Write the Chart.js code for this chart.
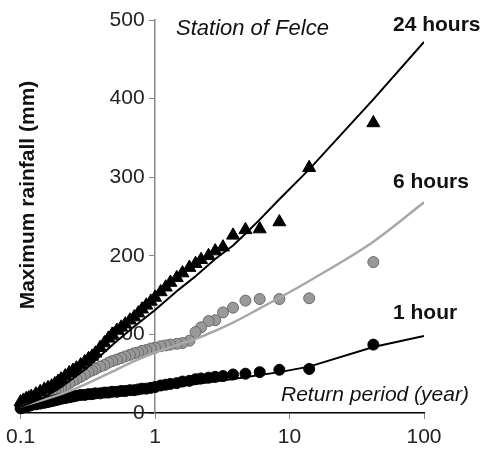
<!DOCTYPE html>
<html>
<head>
<meta charset="utf-8">
<script src="https://cdn.jsdelivr.net/npm/chart.js@4.4.1/dist/chart.umd.min.js"></script>
<style>
  html, body { margin: 0; padding: 0; background: #fff; }
  #wrap { width: 486px; height: 455px; }
</style>
</head>
<body>
<div id="wrap"><canvas id="felceChart" width="486" height="455"></canvas></div>
<script>
// Return periods (years) of the ranked events, shared by the three durations
const returnPeriods = [
  42, 14, 8.4, 6, 4.7, 3.8, 3.2, 2.8, 2.5, 2.2,
  2.0, 1.8, 1.6, 1.45, 1.3, 1.2, 1.1, 1.0, 0.93, 0.86,
  0.8, 0.75, 0.7, 0.65, 0.6, 0.56, 0.52, 0.48, 0.45, 0.42,
  0.39, 0.36, 0.34, 0.32, 0.3, 0.28, 0.26, 0.245, 0.23, 0.215,
  0.2, 0.19, 0.18, 0.17, 0.16, 0.15, 0.14, 0.13, 0.12, 0.115,
  0.11, 0.105, 0.1
];

// Observed maximum rainfall (mm)
const rain24h = [
  369, 312, 243, 234, 233, 226, 211, 206, 200, 195,
  190, 185, 178, 172, 166, 160, 154, 147, 142, 137,
  132, 127, 122, 118, 113, 109, 105, 100, 95, 89,
  83, 76, 72, 69, 65, 61, 57, 54, 51, 47,
  43, 40, 37, 34, 32, 30, 27, 24, 21, 19,
  18, 16, 14
];
const rain6h = [
  192, 146, 145, 145, 143, 134, 128, 118, 117, 109,
  103, 92, 89, 88, 87, 86, 85, 83, 82, 80,
  79, 77, 76, 74, 72, 70, 68, 66, 64, 61,
  59, 56, 54, 52, 49, 46, 43, 41, 38, 35,
  32, 30, 28, 26, 24, 22, 20, 17, 15, 13,
  12, 11, 10
];
const rain1h = [
  87, 56, 55, 52, 50, 49, 47, 46, 45, 44,
  43, 41, 40, 38, 37, 36, 35, 33, 32, 31,
  31, 30, 29, 29, 28, 28, 27, 27, 26, 26,
  25, 25, 24, 24, 23, 23, 22, 21, 20, 19,
  18, 17, 16, 15, 14, 13, 12, 11, 10, 9,
  8, 7, 6
];

// Fitted curves
const fitPeriods24h = [0.1, 0.15, 0.2, 0.3, 0.4, 0.5, 0.7, 1, 1.5, 2, 2.8, 3.8, 4.7, 6, 8.4, 14, 42, 100];
const fit24h = [8, 20, 33, 55, 74, 89, 110, 131, 157, 174, 196, 213, 228, 246, 272, 310, 399, 472];
const fitPeriods6h = [0.1, 0.2, 0.3, 0.5, 0.7, 1, 1.5, 2.2, 3.7, 6, 9.6, 14, 42, 100];
const fit6h = [8, 24, 36, 54, 66, 77, 87, 97, 114, 133, 152, 168, 218, 268];
const fitPeriods1h = [0.1, 0.2, 0.3, 0.5, 1, 2, 3.7, 8.4, 14, 42, 100];
const fit1h = [5, 13, 18, 23, 30, 37, 43, 52, 59, 84, 98];

// Axis ticks
const xTicks = [0.1, 1, 10, 100];
const yTicks = [0, 100, 200, 300, 400, 500];

const FONT = '"Liberation Sans", Arial, sans-serif';

function toPoints(xs, ys) {
  return xs.map((x, i) => ({ x: x, y: ys[i] }));
}

// Free text of the figure (title, series names, axis names)
const felceText = {
  id: 'felceText',
  afterDraw(chart) {
    const ctx = chart.ctx;
    ctx.save();
    ctx.fillStyle = '#111';
    ctx.textBaseline = 'middle';
    ctx.textAlign = 'left';

    ctx.font = 'italic 22px ' + FONT;
    ctx.fillText('Station of Felce', 176, 29);

    ctx.font = 'bold 21px ' + FONT;
    ctx.fillText('24 hours', 393, 25);
    ctx.fillText('6 hours', 393, 182);
    ctx.fillText('1 hour', 393, 313);

    ctx.font = 'italic 21px ' + FONT;
    ctx.fillText('Return period (year)', 281, 395);

    ctx.translate(28, 195);
    ctx.rotate(-Math.PI / 2);
    ctx.textAlign = 'center';
    ctx.font = 'bold 21px ' + FONT;
    ctx.fillText('Maximum rainfall (mm)', 0, 0);
    ctx.restore();
  }
};

const ctx = document.getElementById('felceChart').getContext('2d');
new Chart(ctx, {
  type: 'scatter',
  data: {
    datasets: [
      {
        label: '24 hours fit',
        data: toPoints(fitPeriods24h, fit24h),
        showLine: true,
        borderColor: '#000',
        borderWidth: 2,
        pointRadius: 0,
        tension: 0,
        order: 0
      },
      {
        label: '1 hour fit',
        data: toPoints(fitPeriods1h, fit1h),
        showLine: true,
        borderColor: '#000',
        borderWidth: 2,
        pointRadius: 0,
        tension: 0,
        order: 1
      },
      {
        label: '6 hours fit',
        data: toPoints(fitPeriods6h, fit6h),
        showLine: true,
        borderColor: '#a8a8a8',
        borderWidth: 2.5,
        pointRadius: 0,
        cubicInterpolationMode: 'monotone',
        order: 2
      },
      {
        label: '24 hours',
        data: toPoints(returnPeriods, rain24h),
        pointStyle: 'triangle',
        pointRadius: 7.5,
        backgroundColor: '#000',
        borderColor: '#000',
        borderWidth: 1,
        clip: 12,
        order: 3
      },
      {
        label: '1 hour',
        data: toPoints(returnPeriods, rain1h),
        pointStyle: 'circle',
        pointRadius: 5.5,
        backgroundColor: '#000',
        borderColor: '#000',
        borderWidth: 1,
        clip: 12,
        order: 4
      },
      {
        label: '6 hours',
        data: toPoints(returnPeriods, rain6h),
        pointStyle: 'circle',
        pointRadius: 5.5,
        backgroundColor: '#999',
        borderColor: '#6a6a6a',
        borderWidth: 1,
        clip: 12,
        order: 5
      }
    ]
  },
  options: {
    responsive: false,
    animation: false,
    layout: { padding: { left: 19, right: 62, top: 20, bottom: 0 } },
    plugins: {
      legend: { display: false },
      tooltip: { enabled: false }
    },
    scales: {
      x: {
        type: 'logarithmic',
        position: 'bottom',
        min: 0.1,
        max: 100,
        afterBuildTicks: scale => { scale.ticks = xTicks.map(v => ({ value: v })); },
        afterFit: scale => { scale.height = 42; },
        ticks: {
          autoSkip: false,
          maxRotation: 0,
          padding: 6,
          color: '#222',
          font: { size: 21, family: FONT },
          callback: value => String(value)
        },
        grid: { drawOnChartArea: false, drawTicks: true, tickLength: 6, color: '#888' },
        border: { display: true, color: '#000', width: 1.5 }
      },
      y: {
        type: 'linear',
        position: { x: 1 },
        min: 0,
        max: 500,
        afterBuildTicks: scale => { scale.ticks = yTicks.map(v => ({ value: v })); },
        ticks: {
          color: '#222',
          font: { size: 21, family: FONT },
          // labels sit right on the crossing axis, so keep a gap with an en space
          callback: value => value + '\u2002'
        },
        grid: { drawOnChartArea: false, drawTicks: true, tickLength: 5, color: '#888' },
        border: { display: true, color: '#888', width: 1.5 }
      }
    }
  },
  plugins: [felceText]
});
</script>
</body>
</html>
